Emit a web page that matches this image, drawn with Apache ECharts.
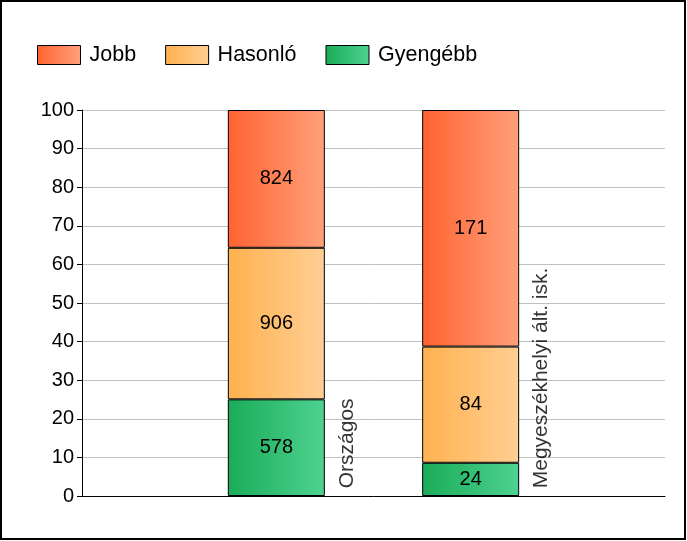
<!DOCTYPE html>
<html>
<head>
<meta charset="utf-8">
<script src="https://cdn.jsdelivr.net/npm/echarts@6/dist/echarts.min.js"></script>
<style>
  html, body { margin: 0; padding: 0; background: #fff; }
  #chart { width: 687px; height: 541px; }
</style>
</head>
<body>
<div id="chart"></div>
<script>
// slots on the x axis: bars stand on slots 2 and 4
var slots = ['0', '1', '2', '3', '4', '5', '6'];
var groups = ['Országos', 'Megyeszékhelyi ált. isk.'];
var groupSlot = [2, 4];
var labelPos = [2.73, 4.73];
var jobb = [824, 171];
var hasonlo = [906, 84];
var gyengebb = [578, 24];

function grad(a, b) {
    return new echarts.graphic.LinearGradient(0, 0, 1, 0, [
        { offset: 0, color: a },
        { offset: 1, color: b }
    ]);
}

function pct(arr) {
    var out = slots.map(function () { return '-'; });
    arr.forEach(function (v, i) {
        var total = jobb[i] + hasonlo[i] + gyengebb[i];
        out[groupSlot[i]] = { value: v / total * 100, count: v };
    });
    return out;
}

function barSeries(name, arr, c1, c2) {
    return {
        name: name,
        type: 'bar',
        stack: 'all',
        barWidth: 97,
        data: pct(arr),
        itemStyle: { color: grad(c1, c2), borderColor: '#000', borderWidth: 1 },
        label: {
            show: true,
            position: 'inside',
            color: '#000',
            fontSize: 20,
            fontFamily: 'Liberation Sans',
            formatter: function (p) { return p.data.count; }
        }
    };
}

var option = {
    animation: false,
    textStyle: { fontFamily: 'Liberation Sans' },
    graphic: [{
        type: 'rect',
        shape: { x: 1, y: 1, width: 684, height: 538 },
        style: { fill: 'none', stroke: '#000', lineWidth: 2 }
    }],
    legend: {
        data: ['Jobb', 'Hasonló', 'Gyengébb'],
        left: 32,
        top: 39,
        itemWidth: 43,
        itemHeight: 19,
        itemGap: 29,
        icon: 'rect',
        textStyle: {
            fontSize: 21.5, color: '#000', fontFamily: 'Liberation Sans',
            padding: [0, 0, 0, 4]
        },
        itemStyle: { borderColor: '#000', borderWidth: 1 }
    },
    grid: { left: 82, right: 22, top: 110, bottom: 45 },
    xAxis: [{
        type: 'category',
        data: slots,
        boundaryGap: false,
        axisLine: { show: true, lineStyle: { color: '#000', width: 1 } },
        axisTick: { show: false },
        axisLabel: { show: false },
        splitLine: { show: false }
    }, {
        type: 'value',
        min: 0,
        max: 6,
        show: false
    }],
    yAxis: {
        type: 'value',
        min: 0,
        max: 100,
        interval: 10,
        axisLine: { show: true, lineStyle: { color: '#000', width: 1 } },
        axisTick: { show: true, length: 5, lineStyle: { color: '#000' } },
        axisLabel: { fontSize: 20, color: '#000', margin: 8, fontFamily: 'Liberation Sans' },
        splitLine: { lineStyle: { color: '#c0c0c0', width: 1 } }
    },
    series: [
        barSeries('Gyengébb', gyengebb, '#1aac58', '#4ed290'),
        barSeries('Hasonló', hasonlo, '#ffb14e', '#ffcf94'),
        barSeries('Jobb', jobb, '#ff6330', '#ffa07c'),
        {
            type: 'scatter',
            xAxisIndex: 1,
            symbolSize: 0,
            silent: true,
            data: groups.map(function (g, i) { return { value: [labelPos[i], 2], name: g }; }),
            label: {
                show: true,
                position: 'inside',
                rotate: 90,
                align: 'left',
                verticalAlign: 'middle',
                color: '#000',
                fontSize: 21,
                fontFamily: 'Liberation Sans',
                formatter: function (p) { return p.name; }
            }
        }
    ]
};

var chart = echarts.init(document.getElementById('chart'));
chart.setOption(option);
</script>
</body>
</html>
